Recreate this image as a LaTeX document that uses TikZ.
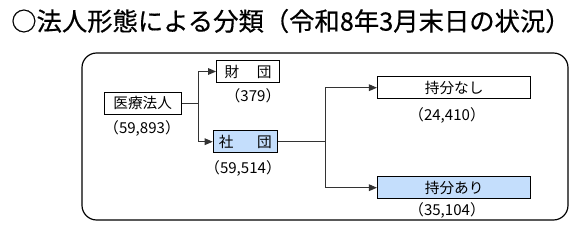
\documentclass[tikz,border=0pt]{standalone}
\usepackage{fontspec}
\setmainfont{Noto Sans CJK JP}
\newfontfamily\titlefont[FakeBold=0.5]{Noto Sans CJK JP}
\usetikzlibrary{arrows.meta}
\definecolor{lblue}{HTML}{C4DEFC}
\tikzset{
  box/.style={draw=black, line width=0.9pt, inner sep=0pt, font=\fontsize{11}{12}\selectfont},
  num/.style={font=\fontsize{11.3}{12}\selectfont, inner sep=0pt},
  conn/.style={draw=black!80, line width=0.7pt},
  arr/.style={conn, -{Triangle[length=6pt,width=5pt]}}
}
\begin{document}
\begin{tikzpicture}[x=0.75pt,y=-0.75pt]
\useasboundingbox (0,0) rectangle (577,228);
\node[anchor=west, inner sep=0pt, font=\titlefont\fontsize{19}{21}\selectfont] (title) at (11,21) {○法人形態による分類（令和8年3月末日の状況）};
\draw[line width=0.9pt, rounded corners=11pt] (82,53) rectangle (568,220);
\node[box, fill=white, minimum width=57.75pt, minimum height=16.5pt] (iryo) at (142.7,103.2) {医療法人};
\node[num] (n1) at (142,128.5) {（59,893）};
\node[box, fill=white, minimum width=47pt, minimum height=16.2pt] (zai) at (248,71.5) {財\hspace{1.2em}団};
\node[num] (n2) at (253,96) {（379）};
\node[box, fill=lblue, minimum width=48pt, minimum height=16.5pt] (sha) at (245.3,141.7) {社\hspace{1.6em}団};
\node[num] (n3) at (243,168.3) {（59,514）};
\node[box, fill=white, minimum width=115pt, minimum height=16.5pt] (nashi) at (454.2,87.7) {持分なし};
\node[num] (n4) at (447,115) {（24,410）};
\node[box, fill=lblue, minimum width=115pt, minimum height=16.5pt] (ari) at (454.2,187.7) {持分あり};
\node[num] (n5) at (447,210.7) {（35,104）};
\coordinate (j1) at (198.3,103.2);
\coordinate (j2) at (325,141.7);
\draw[conn] (iryo.east) -- (j1);
\draw[arr] (j1) |- (zai.west);
\draw[arr] (j1) |- (sha.west);
\draw[conn] (sha.east) -- (j2);
\draw[arr] (j2) |- (nashi.west);
\draw[arr] (j2) |- (ari.west);
\end{tikzpicture}
\end{document}
